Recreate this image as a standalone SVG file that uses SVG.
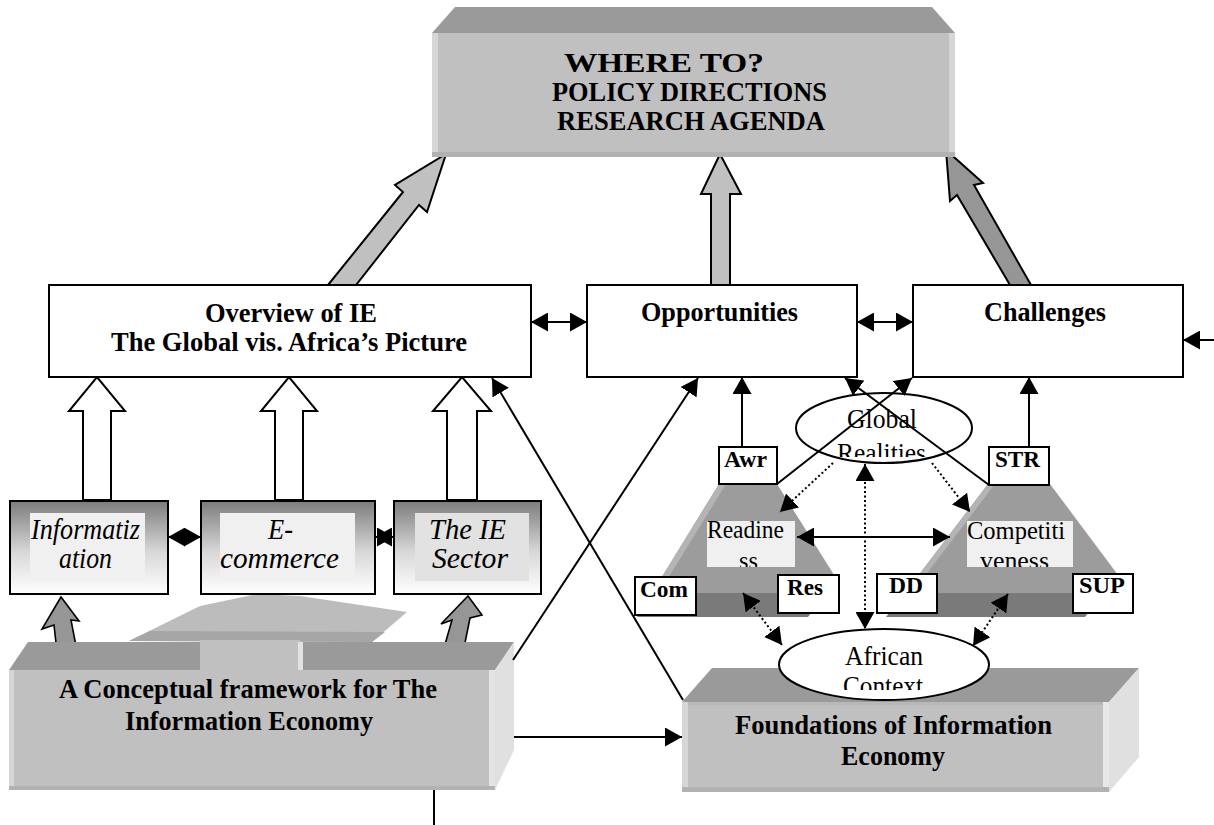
<svg xmlns="http://www.w3.org/2000/svg" width="1214" height="825" viewBox="0 0 1214 825">
<style>
  .tt{font-family:"Liberation Serif","Times New Roman",serif;font-weight:bold;font-size:26.5px;text-anchor:middle;fill:#000}
  .hb{font-family:"Liberation Serif","Times New Roman",serif;font-weight:bold;font-size:27.5px;text-anchor:middle;fill:#000}
  .sb{font-family:"Liberation Serif","Times New Roman",serif;font-weight:bold;font-size:24px;text-anchor:middle;fill:#000}
  .it{font-family:"Liberation Serif","Times New Roman",serif;font-style:italic;font-size:29px;text-anchor:middle;fill:#000}
  .rg{font-family:"Liberation Serif","Times New Roman",serif;font-size:25px;text-anchor:middle;fill:#000}
  .rg2{font-family:"Liberation Serif","Times New Roman",serif;font-size:27px;text-anchor:middle;fill:#000}
  .box{fill:#fff;stroke:#000;stroke-width:2}
  .tag{fill:#fff;stroke:#000;stroke-width:2}
  .ln{fill:none;stroke:#000;stroke-width:2}
  .dot{fill:none;stroke:#000;stroke-width:2;stroke-dasharray:2 2.5}
  .fatL{fill:#c0c0c0;stroke:#000;stroke-width:2;stroke-linejoin:miter}
  .fatD{fill:#969696;stroke:#000;stroke-width:2;stroke-linejoin:miter}
  .hollow{fill:#fff;stroke:#000;stroke-width:2}
  .small{fill:#969696;stroke:#000;stroke-width:1.6}
  .top{fill:#9a9a9a}
  .front{fill:#c0c0c0}
  .side{fill:#e0e0e0}
  .hl{fill:#d6d6d6}
  .lo{fill:#b2b2b2}
  .body{fill:#9c9c9c}
  .band{fill:#7a7a7a}
  .edge{fill:#b4b4b4}
  .pane{fill:#f0f0f0}
</style>
<defs>
  <marker id="ah" viewBox="0 0 17 19" refX="17" refY="9.5" markerWidth="17" markerHeight="19" markerUnits="userSpaceOnUse" orient="auto-start-reverse">
    <path d="M0,0 L17,9.5 L0,19 z" fill="#000"/>
  </marker>
  <linearGradient id="shade" x1="0" y1="0" x2="0" y2="1">
    <stop offset="0" stop-color="#7c7c7c"/>
    <stop offset="0.55" stop-color="#d8d8d8"/>
    <stop offset="1" stop-color="#ffffff"/>
  </linearGradient>
  <clipPath id="cReady"><rect x="700" y="515" width="100" height="52"/></clipPath>
  <clipPath id="cComp"><rect x="960" y="515" width="120" height="52"/></clipPath>
  <clipPath id="cGlobal"><rect x="790" y="390" width="190" height="67"/></clipPath>
  <clipPath id="cAfrican"><rect x="775" y="625" width="220" height="65"/></clipPath>
</defs>

<!-- broad block arrows (drawn first, under the boxes they feed) -->
<g id="flow-arrows">
  <polygon class="fatL" points="328,285 403,192 395,185 446,154 427,212 419,205 356,285"/>
  <polygon class="fatL" points="711,285 711,194 701,194 720,154 741,194 730,194 730,285"/>
  <polygon class="fatD" points="1010,285 957,195 950,201 946,150 983,183 974,185 1031,285"/>
  <polygon class="hollow" points="83,500 83,411 69,411 97,377 125,411 111,411 111,500"/>
  <polygon class="hollow" points="275,500 275,411 261,411 289,377 317,411 303,411 303,500"/>
  <polygon class="hollow" points="447,500 447,411 433,411 462,377 491,411 477,411 477,500"/>
  <polygon class="small" points="61,597 42,629 54,625 57,652 76,646 71,620 79,621"/>
  <polygon class="small" points="468,596 482,615 470,618 464,648 444,648 452,620 441,624"/>
  <polygon fill="#bcbcbc" points="129,641 200,606 257,594 300,596 407,612 372,642"/>
  <polygon fill="#a6a6a6" points="129,641 150,631 385,632 372,642"/>
</g>

<g id="where-to">
  <polygon class="top" points="432,33 455,7 932,7 955,33"/>
  <rect class="front" x="432" y="33" width="523" height="124"/>
  <rect class="hl" x="432" y="33" width="6" height="124"/>
  <rect class="hl" x="949" y="33" width="6" height="124"/>
  <rect class="lo" x="432" y="152" width="523" height="5"/>
  <text class="tt" x="664" y="72" textLength="200" lengthAdjust="spacingAndGlyphs">WHERE TO?</text>
  <text class="tt" x="689.5" y="101" textLength="275" lengthAdjust="spacingAndGlyphs">POLICY DIRECTIONS</text>
  <text class="tt" x="691" y="130" textLength="268" lengthAdjust="spacingAndGlyphs">RESEARCH AGENDA</text>
</g>

<g id="overview">
  <rect class="box" x="49" y="285" width="482" height="92"/>
  <text class="hb" x="291" y="322" textLength="172" lengthAdjust="spacingAndGlyphs">Overview of IE</text>
  <text class="hb" x="289" y="351" textLength="356" lengthAdjust="spacingAndGlyphs">The Global vis. Africa’s Picture</text>
</g>

<g id="opportunities">
  <rect class="box" x="587" y="285" width="270" height="92"/>
  <text class="hb" x="719.5" y="321" textLength="157" lengthAdjust="spacingAndGlyphs">Opportunities</text>
</g>

<g id="challenges">
  <rect class="box" x="913" y="285" width="270" height="92"/>
  <text class="hb" x="1045" y="321" textLength="122" lengthAdjust="spacingAndGlyphs">Challenges</text>
</g>

<g id="informatization">
  <rect x="10" y="501" width="158" height="93" fill="url(#shade)" stroke="#000" stroke-width="2"/>
  <rect class="pane" x="30" y="513" width="115" height="68"/>
  <text class="it" x="85.5" y="539" textLength="109" lengthAdjust="spacingAndGlyphs">Informatiz</text>
  <text class="it" x="85.5" y="568" textLength="53" lengthAdjust="spacingAndGlyphs">ation</text>
</g>

<g id="e-commerce">
  <rect x="201" y="501" width="174" height="93" fill="url(#shade)" stroke="#000" stroke-width="2"/>
  <rect class="pane" x="220" y="513" width="135" height="68"/>
  <text class="it" x="280.5" y="539" textLength="25" lengthAdjust="spacingAndGlyphs">E-</text>
  <text class="it" x="279.5" y="568" textLength="119" lengthAdjust="spacingAndGlyphs">commerce</text>
</g>

<g id="ie-sector">
  <rect x="394" y="501" width="147" height="93" fill="url(#shade)" stroke="#000" stroke-width="2"/>
  <rect x="415" y="513" width="114" height="68" fill="#e2e2e2"/>
  <text class="it" x="467.5" y="539" textLength="77" lengthAdjust="spacingAndGlyphs">The IE</text>
  <text class="it" x="470" y="568" textLength="76" lengthAdjust="spacingAndGlyphs">Sector</text>
</g>

<g id="conceptual-framework">
  <polygon class="top" points="9,670 200,670 200,642 28,642"/>
  <polygon class="top" points="300,670 495,670 514,642 300,642"/>
  <rect class="front" x="200" y="640" width="100" height="32"/>
  <rect x="298" y="642" width="5" height="28" fill="#e2e2e2"/>
  <rect class="front" x="9" y="670" width="486" height="120"/>
  <rect class="hl" x="9" y="670" width="5" height="120"/>
  <rect x="489" y="670" width="6" height="120" fill="#e4e4e4"/>
  <rect class="lo" x="9" y="786" width="486" height="4"/>
  <polygon class="side" points="495,670 514,642 514,750 495,790"/>
  <text class="hb" x="248" y="698" textLength="378" lengthAdjust="spacingAndGlyphs">A Conceptual framework for The</text>
  <text class="hb" x="249" y="730" textLength="248" lengthAdjust="spacingAndGlyphs">Information Economy</text>
</g>

<g id="foundations">
  <polygon class="top" points="682,702 1109,702 1139,668 712,668"/>
  <rect class="front" x="682" y="702" width="427" height="90"/>
  <rect x="682" y="702" width="427" height="3" fill="#b8b8b8"/>
  <rect class="hl" x="682" y="702" width="6" height="90"/>
  <rect x="1103" y="702" width="6" height="90" fill="#e8e8e8"/>
  <rect class="lo" x="682" y="787" width="427" height="5"/>
  <polygon class="side" points="1109,702 1139,668 1139,757 1109,792"/>
  <text class="hb" x="893.5" y="734" textLength="317" lengthAdjust="spacingAndGlyphs">Foundations of Information</text>
  <text class="hb" x="893" y="765" textLength="104" lengthAdjust="spacingAndGlyphs">Economy</text>
</g>

<g id="readiness">
  <polygon class="body" points="719,484 777,484 836,578 826,593 652,593"/>
  <polygon class="edge" points="719,484 726,484 659,593 652,593"/>
  <polygon class="band" points="652,593 826,593 808,617 637,617"/>
  <rect class="pane" x="707" y="521" width="88" height="46"/>
  <text class="rg" x="745.5" y="538" textLength="77" lengthAdjust="spacingAndGlyphs">Readine</text>
  <text class="rg" x="748.5" y="569" textLength="19" lengthAdjust="spacingAndGlyphs" clip-path="url(#cReady)">ss</text>
</g>

<g id="competitiveness">
  <polygon class="body" points="988,484 1050,484 1118,575 1104,593 905,593"/>
  <polygon class="edge" points="988,484 995,484 912,593 905,593"/>
  <polygon class="band" points="905,593 1104,593 1085,617 886,617"/>
  <rect class="pane" x="967" y="521" width="106" height="46"/>
  <text class="rg" x="1016" y="539" textLength="98" lengthAdjust="spacingAndGlyphs">Competiti</text>
  <text class="rg" x="1014.5" y="569" textLength="69" lengthAdjust="spacingAndGlyphs" clip-path="url(#cComp)">veness</text>
</g>

<g id="global-realities">
  <ellipse cx="884" cy="428" rx="88" ry="35" fill="#fff" stroke="#000" stroke-width="2"/>
  <text class="rg2" x="882" y="428" textLength="70" lengthAdjust="spacingAndGlyphs">Global</text>
  <text class="rg2" x="881.5" y="462" textLength="89" lengthAdjust="spacingAndGlyphs" clip-path="url(#cGlobal)">Realities</text>
</g>

<g id="african-context">
  <ellipse cx="884" cy="664.5" rx="105" ry="35.5" fill="#fff" stroke="#000" stroke-width="2"/>
  <text class="rg2" x="884" y="665" textLength="78" lengthAdjust="spacingAndGlyphs">African</text>
  <text class="rg2" x="883" y="695" textLength="80" lengthAdjust="spacingAndGlyphs" clip-path="url(#cAfrican)">Context</text>
</g>

<g id="tag-awr"><rect class="tag" x="719" y="447" width="58" height="37"/><text class="sb" x="745.5" y="467" textLength="43" lengthAdjust="spacingAndGlyphs">Awr</text></g>
<g id="tag-str"><rect class="tag" x="989" y="447" width="60" height="38"/><text class="sb" x="1017.5" y="467" textLength="45" lengthAdjust="spacingAndGlyphs">STR</text></g>
<g id="tag-com"><rect class="tag" x="635" y="577" width="61" height="38"/><text class="sb" x="664" y="597" textLength="48" lengthAdjust="spacingAndGlyphs">Com</text></g>
<g id="tag-res"><rect class="tag" x="778" y="575" width="61" height="38"/><text class="sb" x="805" y="595" textLength="36" lengthAdjust="spacingAndGlyphs">Res</text></g>
<g id="tag-dd"><rect class="tag" x="877" y="574" width="60" height="39"/><text class="sb" x="906" y="593" textLength="34" lengthAdjust="spacingAndGlyphs">DD</text></g>
<g id="tag-sup"><rect class="tag" x="1073" y="574" width="60" height="39"/><text class="sb" x="1102" y="593" textLength="46" lengthAdjust="spacingAndGlyphs">SUP</text></g>

<g id="connectors">
  <line class="ln" x1="531" y1="322" x2="587" y2="322" marker-start="url(#ah)" marker-end="url(#ah)"/>
  <line class="ln" x1="857" y1="322" x2="913" y2="322" marker-start="url(#ah)" marker-end="url(#ah)"/>
  <line class="ln" x1="1214" y1="340" x2="1183" y2="340" marker-end="url(#ah)"/>
  <line class="ln" x1="168" y1="537" x2="201" y2="537" marker-start="url(#ah)" marker-end="url(#ah)"/>
  <line class="ln" x1="375" y1="537" x2="394" y2="537" marker-start="url(#ah)" marker-end="url(#ah)"/>
  <line class="ln" x1="513" y1="660" x2="698" y2="378" marker-end="url(#ah)"/>
  <line class="ln" x1="683" y1="700" x2="492" y2="378" marker-end="url(#ah)"/>
  <line class="ln" x1="514" y1="737" x2="682" y2="737" marker-end="url(#ah)"/>
  <line class="ln" x1="434" y1="790" x2="434" y2="825"/>
  <line class="ln" x1="742" y1="447" x2="742" y2="377" marker-end="url(#ah)"/>
  <line class="ln" x1="1029" y1="447" x2="1029" y2="377" marker-end="url(#ah)"/>
  <line class="ln" x1="777" y1="484" x2="912" y2="378" marker-end="url(#ah)"/>
  <line class="ln" x1="989" y1="485" x2="845" y2="378" marker-end="url(#ah)"/>
  <line class="ln" x1="797" y1="537" x2="950" y2="537" marker-start="url(#ah)" marker-end="url(#ah)"/>
  <line class="dot" x1="833" y1="463" x2="780" y2="512" marker-end="url(#ah)"/>
  <line class="dot" x1="932" y1="463" x2="970" y2="512" marker-end="url(#ah)"/>
  <line class="dot" x1="865" y1="464" x2="865" y2="629" marker-start="url(#ah)" marker-end="url(#ah)"/>
  <line class="dot" x1="743" y1="593" x2="782" y2="645" marker-start="url(#ah)" marker-end="url(#ah)"/>
  <line class="dot" x1="1008" y1="594" x2="973" y2="646" marker-start="url(#ah)" marker-end="url(#ah)"/>
</g>
</svg>
